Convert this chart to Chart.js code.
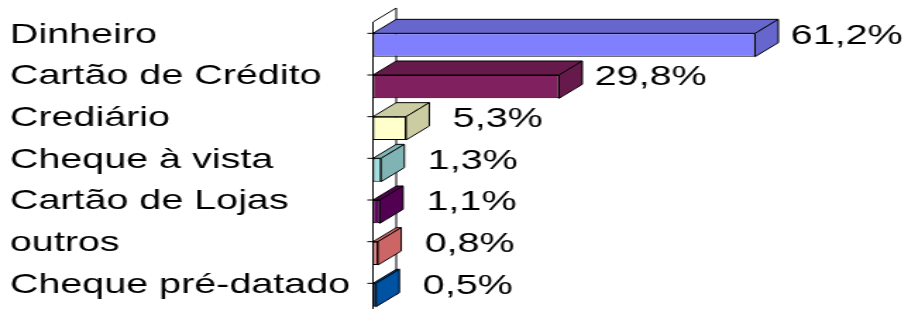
<!DOCTYPE html>
<html>
<head>
<meta charset="utf-8">
<script src="https://cdn.jsdelivr.net/npm/chart.js@4.4.1/dist/chart.umd.min.js"></script>
<style>
  html, body { margin: 0; padding: 0; background: #fff; overflow: hidden; }
  /* the source picture is stretched sideways, so draw narrow and widen it */
  #wrap { width: 641px; height: 311px; transform: scaleX(1.41); transform-origin: 0 0; }
</style>
</head>
<body>
<div id="wrap"><canvas id="payChart"></canvas></div>
<script>
const categories = ['Dinheiro', 'Cartão de Crédito', 'Crediário', 'Cheque à vista', 'Cartão de Lojas', 'outros', 'Cheque pré-datado'];
const shares = [61.2, 29.8, 5.3, 1.3, 1.1, 0.8, 0.5];
const frontColors = ['#8080FF', '#80205F', '#FFFFCC', '#A0E0E0', '#660066', '#FF8080', '#0066CC'];
const sideColors = ['#6666CC', '#661A4C', '#CCCCA3', '#80B3B3', '#520052', '#CC6666', '#0052A3'];

const FONT = "'Liberation Sans', Arial, sans-serif";
const DX = 16.5, DY = -14;   // 3d depth offset

function fmt(v) {
  return v.toFixed(1).replace('.', ',') + '%';
}

function poly(ctx, pts, fill) {
  ctx.beginPath();
  ctx.moveTo(pts[0][0], pts[0][1]);
  for (let k = 1; k < pts.length; k++) ctx.lineTo(pts[k][0], pts[k][1]);
  ctx.closePath();
  ctx.fillStyle = fill;
  ctx.fill();
  ctx.stroke();
}

const depth3d = {
  id: 'depth3d',
  beforeDatasetsDraw(chart) {
    const { ctx, chartArea, scales: { x } } = chart;
    const x0 = x.getPixelForValue(0);
    const top = chartArea.top - 23, bot = chartArea.bottom + 14;
    ctx.save();
    ctx.strokeStyle = '#000';
    ctx.lineWidth = 1;
    ctx.fillStyle = '#fff';
    ctx.beginPath();
    ctx.moveTo(x0, bot);
    ctx.lineTo(x0, top);
    ctx.lineTo(x0 + DX, top + DY);
    ctx.lineTo(x0 + DX, bot + DY);
    ctx.fill();
    ctx.stroke();
    ctx.restore();
  },
  afterDatasetsDraw(chart) {
    const { ctx } = chart;
    const meta = chart.getDatasetMeta(0);
    ctx.save();
    ctx.strokeStyle = '#000';
    ctx.lineWidth = 1;
    meta.data.forEach((bar, i) => {
      const { x, y, base, height } = bar.getProps(['x', 'y', 'base', 'height'], true);
      const t = y - height / 2, b = y + height / 2;
      poly(ctx, [[base, t], [x, t], [x + DX, t + DY], [base + DX, t + DY]], sideColors[i]);
      poly(ctx, [[x, t], [x, b], [x + DX, b + DY], [x + DX, t + DY]], sideColors[i]);
      ctx.beginPath();
      ctx.moveTo(base - 4, t);
      ctx.lineTo(base, t);
      ctx.stroke();
      ctx.fillStyle = '#000';
      ctx.font = '28px ' + FONT;
      ctx.textAlign = 'center';
      ctx.textBaseline = 'middle';
      ctx.fillText(fmt(shares[i]), x + 65, y - 9);
    });
    ctx.restore();
  }
};

Chart.defaults.font.family = FONT;

new Chart(document.getElementById('payChart'), {
  type: 'bar',
  data: {
    labels: categories,
    datasets: [{
      data: shares,
      backgroundColor: frontColors,
      borderColor: '#000',
      borderWidth: 1,
      borderSkipped: false,
      categoryPercentage: 1,
      barPercentage: 0.56,
      clip: false
    }]
  },
  options: {
    indexAxis: 'y',
    responsive: true,
    maintainAspectRatio: false,
    animation: false,
    layout: { padding: { left: 7, right: 66.5, top: 45, bottom: 16 } },
    plugins: { legend: { display: false }, tooltip: { enabled: false } },
    scales: {
      x: { display: false, min: 0, max: 70 },
      y: {
        offset: false,
        grid: { display: false },
        border: { display: false },
        afterFit(scale) { scale.width = 257.5; },
        ticks: {
          autoSkip: false,
          crossAlign: 'far',
          padding: 0,
          labelOffset: -10,
          color: '#000',
          font: { size: 28, lineHeight: 1 }
        }
      }
    }
  },
  plugins: [depth3d]
});
</script>
</body>
</html>
